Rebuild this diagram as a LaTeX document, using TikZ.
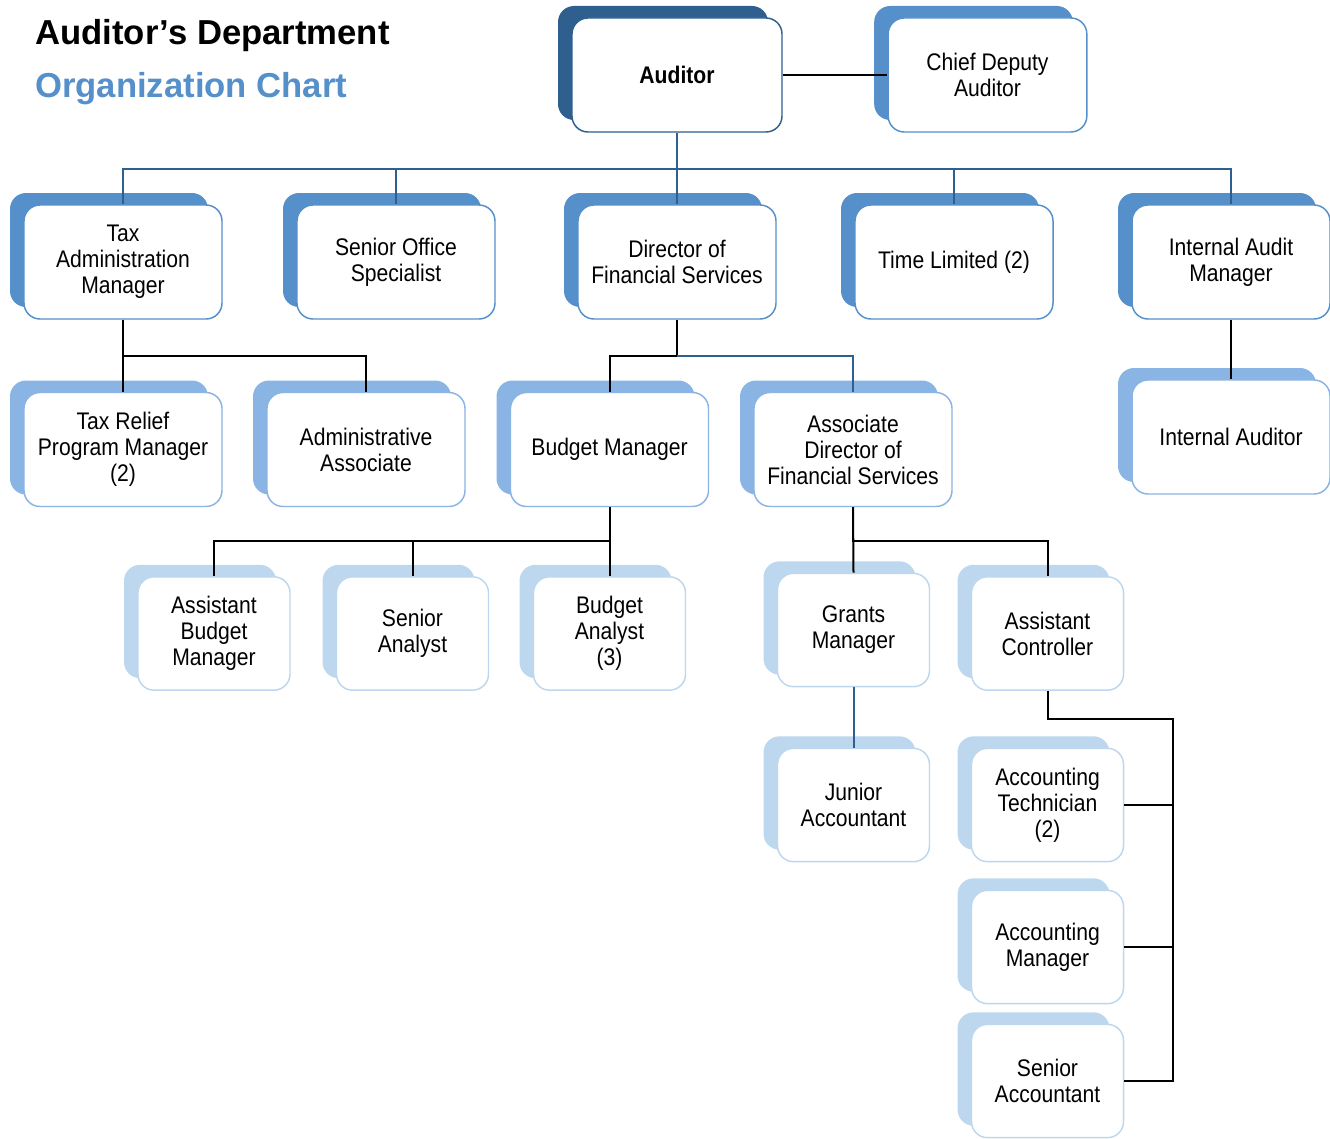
\documentclass[tikz,border=0pt]{standalone}
\usepackage{fontspec}
\setmainfont{Liberation Sans}[FakeStretch=0.88]
\newfontfamily\titlefont{Liberation Sans}
\usetikzlibrary{shadows}
\definecolor{navy}{HTML}{2F5F8F}
\definecolor{midblue}{HTML}{5590CB}
\definecolor{lightblue}{HTML}{8AB4E4}
\definecolor{paleblue}{HTML}{BDD7EE}

\begin{document}
\begin{tikzpicture}[
  x=0.75pt, y=-0.75pt,
  post/.style={
    draw=#1, fill=white, rounded corners=12pt, line width=1.1pt,
    align=center, inner sep=0pt,
    font=\fontsize{18pt}{19.5pt}\selectfont,
    general shadow={fill=#1, shadow xshift=-10.5pt, shadow yshift=9pt}
  },
  headbox/.style={post=navy, minimum width=157.5pt, minimum height=85.5pt},
  deputybox/.style={post=midblue, minimum width=149pt, minimum height=85.5pt},
  unitbox/.style={post=midblue, minimum width=148.5pt, minimum height=85.5pt},
  teambox/.style={post=lightblue, minimum width=148.5pt, minimum height=85.5pt},
  staffbox/.style={post=paleblue, minimum width=114pt, minimum height=85pt},
  link/.style={draw=black, line width=1.5pt},
  bluelink/.style={draw=navy, line width=1.5pt},
  title/.style={anchor=base west, inner sep=0pt,
    font=\titlefont\fontsize{26pt}{30pt}\selectfont\bfseries},
]
\useasboundingbox (0,0) rectangle (1330,1138);

% Title
\node[title] (ttl) at (35,45) {Auditor’s Department};
\node[title, text=midblue] (subttl) at (35,97) {Organization Chart};

% Top
\node[headbox] (auditor) at (677,75) {\bfseries Auditor};
\node[deputybox] (chief) at (987.5,75) {Chief Deputy\\Auditor};

% First row
\node[unitbox] (taxadmin) at (123,262) {Tax\\Administration\\Manager};
\node[unitbox] (office) at (396,262) {Senior Office\\Specialist};
\node[unitbox] (director) at (677,262) {Director of\\Financial Services};
\node[unitbox] (timelim) at (954,262) {Time Limited (2)};
\node[unitbox] (iamgr) at (1231,262) {Internal Audit\\Manager};

% Second row
\node[teambox] (taxrelief) at (123,449.5) {Tax Relief\\Program Manager\\(2)};
\node[teambox] (adminassoc) at (366,449.5) {Administrative\\Associate};
\node[teambox] (budgetmgr) at (609.5,449.5) {Budget Manager};
\node[teambox] (assocdir) at (853,449.5) {Associate\\Director of\\Financial Services};
\node[teambox] (intauditor) at (1231,437) {Internal Auditor};

% Third row
\node[staffbox] (asstbudget) at (214,633.5) {Assistant\\Budget\\Manager};
\node[staffbox] (analyst) at (412.5,633.5) {Senior\\Analyst};
\node[staffbox] (budgetanalyst) at (609.5,633.5) {Budget\\Analyst\\(3)};
\node[staffbox] (grants) at (853.5,630) {Grants\\Manager};
\node[staffbox] (asstctrl) at (1047.5,633.5) {Assistant\\Controller};

% Accounting
\node[staffbox] (junior) at (853.5,805) {Junior\\Accountant};
\node[staffbox] (accttech) at (1047.5,805) {Accounting\\Technician\\(2)};
\node[staffbox] (acctmgr) at (1047.5,947) {Accounting\\Manager};
\node[staffbox] (senioracct) at (1047.5,1081) {Senior\\Accountant};

% Connectors
\draw[link] (auditor.east) -- (chief.west);
\draw[bluelink] (auditor.south) -- ++(0,36) coordinate (bus);
\foreach \n in {taxadmin,office,director,timelim,iamgr}
  \draw[bluelink] (bus) -| (\n.north);

\draw[link] (taxadmin.south) -- (taxrelief.north);
\draw[link] (taxadmin.south) -- ++(0,36) -| (adminassoc.north);

\draw[link] (director.south) -- ++(0,36) coordinate (dbus) -| (budgetmgr.north);
\draw[bluelink] (dbus) -| (assocdir.north);

\draw[link] (iamgr.south) -- (intauditor.north);

\draw[link] (budgetmgr.south) -- ++(0,34) coordinate (bbus);
\foreach \n in {asstbudget,analyst,budgetanalyst}
  \draw[link] (bbus) -| (\n.north);

\draw[link] (assocdir.south) -- (grants.north);
\draw[link] (assocdir.south) -- ++(0,34) -| (asstctrl.north);

\draw[bluelink] (grants.south) -- (junior.north);

\coordinate (rail) at ([xshift=36.75pt]senioracct.east);
\draw[link] (asstctrl.south) -- ++(0,28) -| (rail) -- (senioracct.east);
\draw[link] (accttech.east) -- (accttech.east -| rail);
\draw[link] (acctmgr.east) -- (acctmgr.east -| rail);

\end{tikzpicture}
\end{document}
